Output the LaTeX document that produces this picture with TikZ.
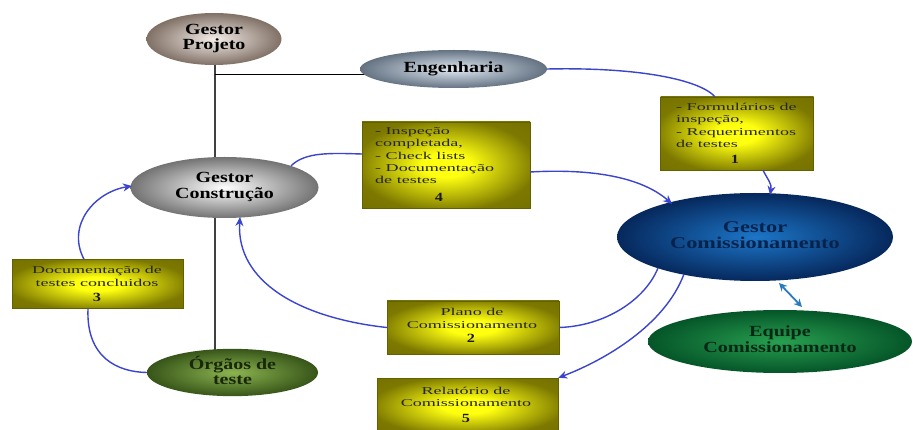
\documentclass[tikz,border=0pt]{standalone}
\usepackage{fontspec}
\usepackage{graphicx}
\setmainfont{Liberation Serif}
\usetikzlibrary{shapes.geometric,arrows.meta}

\definecolor{flow}{HTML}{3A44CC}
\definecolor{link}{HTML}{2A7AC0}
\definecolor{olivebox}{HTML}{7C7800}
\definecolor{glow}{HTML}{FFFF10}

% yellow glow fading to olive towards the box edges
\pgfdeclareradialshading{docglow}{\pgfpoint{0bp}{0bp}}{%
  color(0bp)=(glow); color(7bp)=(glow); color(27bp)=(olivebox); color(50bp)=(olivebox!85!black)}

% horizontally widened multi-line labels
\newcommand\widelines[3]{\scalebox{#1}[1]{\begin{tabular}{@{}#2@{}}#3\end{tabular}}}

\tikzset{
  role/.style={ellipse, inner sep=0pt, shading=radial},
  rolefont/.style={font=\fontsize{15.5}{15.5}\selectfont\bfseries},
  docbox/.style={rectangle, inner sep=0pt, shading=docglow,
    draw=olivebox!80!black, line width=0.4pt},
  doctext/.style={inner sep=0pt, font=\fontsize{10.5}{12.2}\selectfont, text=black!85},
  docnum/.style={inner sep=0pt, font=\fontsize{12.5}{12.5}\selectfont\bfseries, text=black!90},
  flowline/.style={draw=flow, line width=1.4pt},
  flowarrow/.style={flowline, -{Stealth[length=9pt,width=8pt]}},
  tree/.style={draw=black!75, line width=1.3pt},
}

\begin{document}
\begin{tikzpicture}[x=1pt,y=-1pt]
\useasboundingbox (0,0) rectangle (913,430);

% hierarchy lines
\draw[tree] (215,60) -- (215,352);
\draw[draw=black, line width=1pt] (215,75) -- (365,75);

% roles
\node[role, minimum width=135pt, minimum height=52pt,
  inner color={rgb,255:red,245;green,238;blue,232}, outer color={rgb,255:red,128;green,112;blue,102},
  rolefont] (gp) at (214,39) {\widelines{1.29}{c}{Gestor\\Projeto}};
\node[role, minimum width=187pt, minimum height=38pt,
  inner color={rgb,255:red,225;green,234;blue,244}, outer color={rgb,255:red,100;green,114;blue,130},
  rolefont] (eng) at (453.5,69) {\widelines{1.29}{c}{Engenharia}};
\node[role, minimum width=188pt, minimum height=61pt,
  inner color=white, outer color=black!55, rolefont] (gc) at (224.5,187.5)
  {\widelines{1.29}{c}{Gestor\\Construção}};
\node[role, minimum width=276pt, minimum height=88pt,
  inner color={rgb,255:red,28;green,118;blue,200}, outer color={rgb,255:red,6;green,40;blue,92},
  text={rgb,255:red,8;green,35;blue,75}, font=\fontsize{16.5}{16.5}\selectfont\bfseries] (gcom) at (755,237)
  {\widelines{1.35}{c}{Gestor\\Comissionamento}};
\node[role, minimum width=264pt, minimum height=63pt,
  inner color={rgb,255:red,40;green,160;blue,80}, outer color={rgb,255:red,5;green,85;blue,40},
  text={rgb,255:red,5;green,40;blue,20}, rolefont] (eq) at (780,341.5)
  {\widelines{1.30}{c}{Equipe\\Comissionamento}};
\node[role, minimum width=171pt, minimum height=47pt,
  inner color={rgb,255:red,140;green,180;blue,80}, outer color={rgb,255:red,55;green,85;blue,25},
  text={rgb,255:red,25;green,40;blue,10}, rolefont] (org) at (232.5,372.5)
  {\widelines{1.29}{c}{Órgãos de\\teste}};

% documents
\node[docbox, minimum width=168pt, minimum height=86pt] (d4) at (446,165) {};
\node[doctext, anchor=north west] (t4) at (375,126)
  {\widelines{1.72}{l}{- Inspeção\\completada,\\- Check lists\\- Documentação\\de testes}};
\node[docnum] (n4) at (439,197) {\scalebox{1.3}[1]{4}};

\node[docbox, minimum width=153pt, minimum height=73pt] (d1) at (737,133.5) {};
\node[doctext, anchor=north west] (t1) at (676,102)
  {\widelines{1.72}{l}{- Formulários de\\inspeção,\\- Requerimentos\\de testes}};
\node[docnum] (n1) at (735,159) {\scalebox{1.3}[1]{1}};

\node[docbox, minimum width=171pt, minimum height=49pt] (d3) at (97.5,284) {};
\node[doctext] (t3) at (97,277.5) {\widelines{1.72}{c}{Documentação de\\testes concluidos}};
\node[docnum] (n3) at (97,297) {\scalebox{1.3}[1]{3}};

\node[docbox, minimum width=172pt, minimum height=53pt] (d2) at (473,327.5) {};
\node[doctext] (t2) at (472,319.5) {\widelines{1.72}{c}{Plano de\\Comissionamento}};
\node[docnum] (n2) at (471,338) {\scalebox{1.3}[1]{2}};

\node[docbox, minimum width=181pt, minimum height=56pt] (d5) at (467.5,406) {};
\node[doctext] (t5) at (466,398) {\widelines{1.72}{c}{Relatório de\\Comissionamento}};
\node[docnum] (n5) at (466,418) {\scalebox{1.3}[1]{5}};

% flows
\draw[flowline] (eng.east) .. controls (640,67) and (700,80) .. (d1.north -| 715,0);
\draw[flowarrow] (d1.south -| 763,0) .. controls (768,180) and (772,184) .. (770,195);
\draw[flowline] (gc.north east) .. controls (305,152) and (330,153) .. (d4.west |- 0,154);
\draw[flowarrow] (d4.east |- 0,172) .. controls (600,168) and (645,180) .. (672,204);
\draw[flowline] (658,268) .. controls (645,300) and (605,326) .. (d2.east);
\draw[flowarrow] (d2.west) .. controls (300,318) and (236,282) .. (240,217);
\draw[flowarrow] (684,274) .. controls (665,325) and (605,360) .. (d5.north east);
\draw[flowarrow] (d3.north -| 84,0) .. controls (66,225) and (95,192) .. (132,186);
\draw[flowline] (d3.south -| 88,0) .. controls (86,358) and (118,372) .. (org.west);

% team link
\draw[draw=link, line width=1.8pt, {Stealth[length=8pt,width=8pt]}-{Stealth[length=8pt,width=8pt]}] (779,283) -- (802,307);
\end{tikzpicture}
\end{document}
